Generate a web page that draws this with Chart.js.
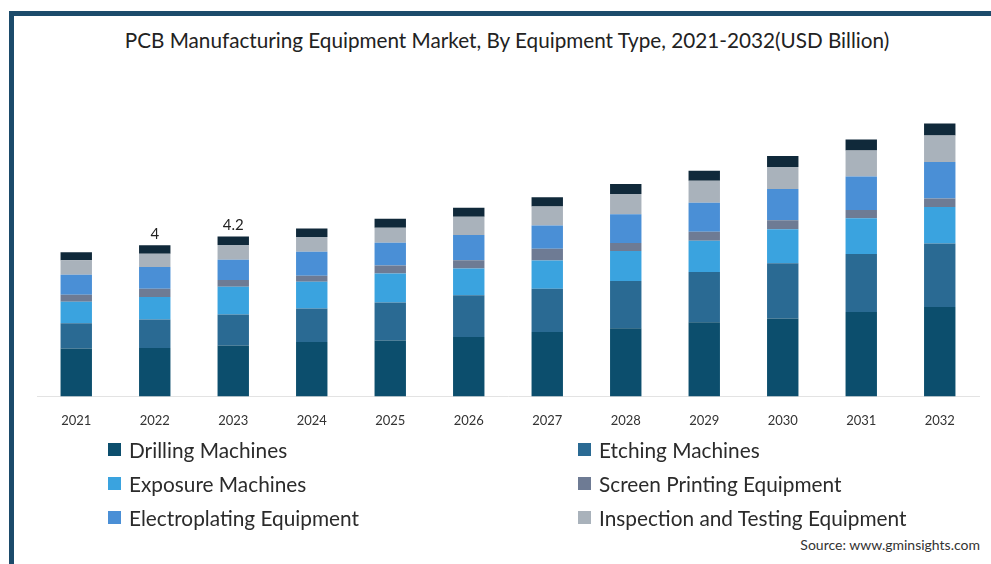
<!DOCTYPE html>
<html>
<head>
<meta charset="utf-8">
<script src="https://cdn.jsdelivr.net/npm/chart.js@4.4.1/dist/chart.umd.min.js"></script>
<style>
    body { margin: 0; background: #fff; width: 991px; height: 564px; overflow: hidden; position: relative; font-family: Lato, 'Open Sans', sans-serif; }
    #marco { position: absolute; left: 9px; top: 11px; right: -10px; bottom: -10px; border-top: 5px solid #1c4b6b; border-left: 5px solid #1c4b6b; }
    #titulo { position: absolute; left: 0; width: 1014px; top: 28px; text-align: center; font-size: 20.7px; color: #222; }
    #grafico { position: absolute; left: 0; top: 0; width: 991px; height: 457px; }
    #leyenda { position: absolute; left: 108px; top: 437px; display: grid; grid-template-columns: 470px 400px; row-gap: 9px; }
    .item { display: flex; align-items: center; font-size: 20.8px; color: #2b2b2b; height: 25px; }
    .caja { width: 13px; height: 13px; margin-right: 8px; }
    #fuente { position: absolute; right: 11px; top: 536px; font-size: 14px; color: #333; }
</style>
</head>
<body>
<div id="marco"></div>
<div id="titulo">PCB Manufacturing Equipment Market, By Equipment Type, 2021-2032(USD Billion)</div>
<canvas id="grafico" width="991" height="457"></canvas>
<div id="leyenda"></div>
<div id="fuente">Source: www.gminsights.com</div>
<script>
// Años del eje x.
const YEARS = ['2021', '2022', '2023', '2024', '2025', '2026', '2027', '2028', '2029', '2030', '2031', '2032'];
// Valores de cada segmento (USD Billion).
const DRILLING = [1.26, 1.27, 1.34, 1.43, 1.47, 1.56, 1.69, 1.79, 1.95, 2.05, 2.22, 2.35];
const ETCHING = [0.66, 0.75, 0.81, 0.88, 1.00, 1.10, 1.14, 1.24, 1.32, 1.45, 1.52, 1.67];
const EXPOSURE = [0.57, 0.59, 0.73, 0.70, 0.76, 0.70, 0.74, 0.79, 0.82, 0.89, 0.94, 0.96];
const SCREEN_PRINTING = [0.18, 0.22, 0.18, 0.16, 0.21, 0.22, 0.31, 0.21, 0.24, 0.24, 0.22, 0.22];
const ELECTROPLATING = [0.53, 0.57, 0.53, 0.63, 0.60, 0.66, 0.61, 0.76, 0.76, 0.82, 0.88, 0.96];
const INSPECTION = [0.38, 0.35, 0.39, 0.39, 0.39, 0.48, 0.50, 0.53, 0.58, 0.58, 0.68, 0.70];
const OTHERS = [0.21, 0.22, 0.22, 0.22, 0.24, 0.24, 0.245, 0.26, 0.26, 0.29, 0.29, 0.31];
// Etiquetas de total que se muestran sobre algunas barras.
const TOTAL_LABELS = ['', '4', '4.2', '', '', '', '', '', '', '', '', ''];

// Complemento para dibujar los totales encima de las barras.
const totalesPlugin = {
    id: 'totales',
    afterDatasetsDraw(chart) {
        const ctx = chart.ctx;
        const meta = chart.getDatasetMeta(chart.data.datasets.length - 1);
        ctx.save();
        ctx.font = '15px Lato, "Open Sans", sans-serif';
        ctx.fillStyle = '#222';
        ctx.textAlign = 'center';
        ctx.textBaseline = 'bottom';
        TOTAL_LABELS.forEach((texto, i) => {
            if (texto) {
                const bar = meta.data[i];
                ctx.fillText(texto, bar.x, bar.y - 4);
            }
        });
        ctx.restore();
    }
};

document.addEventListener('DOMContentLoaded', () => {
    const ctx = document.getElementById('grafico').getContext('2d');
    const chart = new Chart(ctx, {
        type: 'bar',
        data: {
            labels: YEARS,
            datasets: [
                { label: 'Drilling Machines', data: DRILLING, backgroundColor: '#0c4e6d' },
                { label: 'Etching Machines', data: ETCHING, backgroundColor: '#2a6a93' },
                { label: 'Exposure Machines', data: EXPOSURE, backgroundColor: '#3aa3df' },
                { label: 'Screen Printing Equipment', data: SCREEN_PRINTING, backgroundColor: '#6e7b94' },
                { label: 'Electroplating Equipment', data: ELECTROPLATING, backgroundColor: '#4a8fd6' },
                { label: 'Inspection and Testing Equipment', data: INSPECTION, backgroundColor: '#a9b2bb' },
                { label: 'Others', data: OTHERS, backgroundColor: '#10293a' }
            ]
        },
        options: {
            responsive: false,
            animation: false,
            layout: { padding: { left: 37, right: 12, top: 92, bottom: 11 } },
            datasets: { bar: { barPercentage: 0.4, categoryPercentage: 1 } },
            plugins: {
                legend: { display: false },
                tooltip: { enabled: false }
            },
            scales: {
                x: {
                    stacked: true,
                    grid: { display: false, drawTicks: false },
                    border: { color: '#e3e3e3' },
                    ticks: { padding: 17, color: '#333', font: { family: 'Lato', size: 13 } }
                },
                y: {
                    stacked: true,
                    display: false,
                    min: 0,
                    max: 8
                }
            }
        },
        plugins: [totalesPlugin]
    });

    // Se construye la leyenda en HTML a partir de los datasets del gráfico (sin "Others").
    const leyenda = document.getElementById('leyenda');
    const ds = chart.data.datasets;
    [0, 1, 2, 3, 4, 5].forEach(i => {
        const item = document.createElement('div');
        item.className = 'item';
        item.innerHTML = `<span class="caja" style="background:${ds[i].backgroundColor}"></span>${ds[i].label}`;
        leyenda.appendChild(item);
    });
});
</script>
</body>
</html>
